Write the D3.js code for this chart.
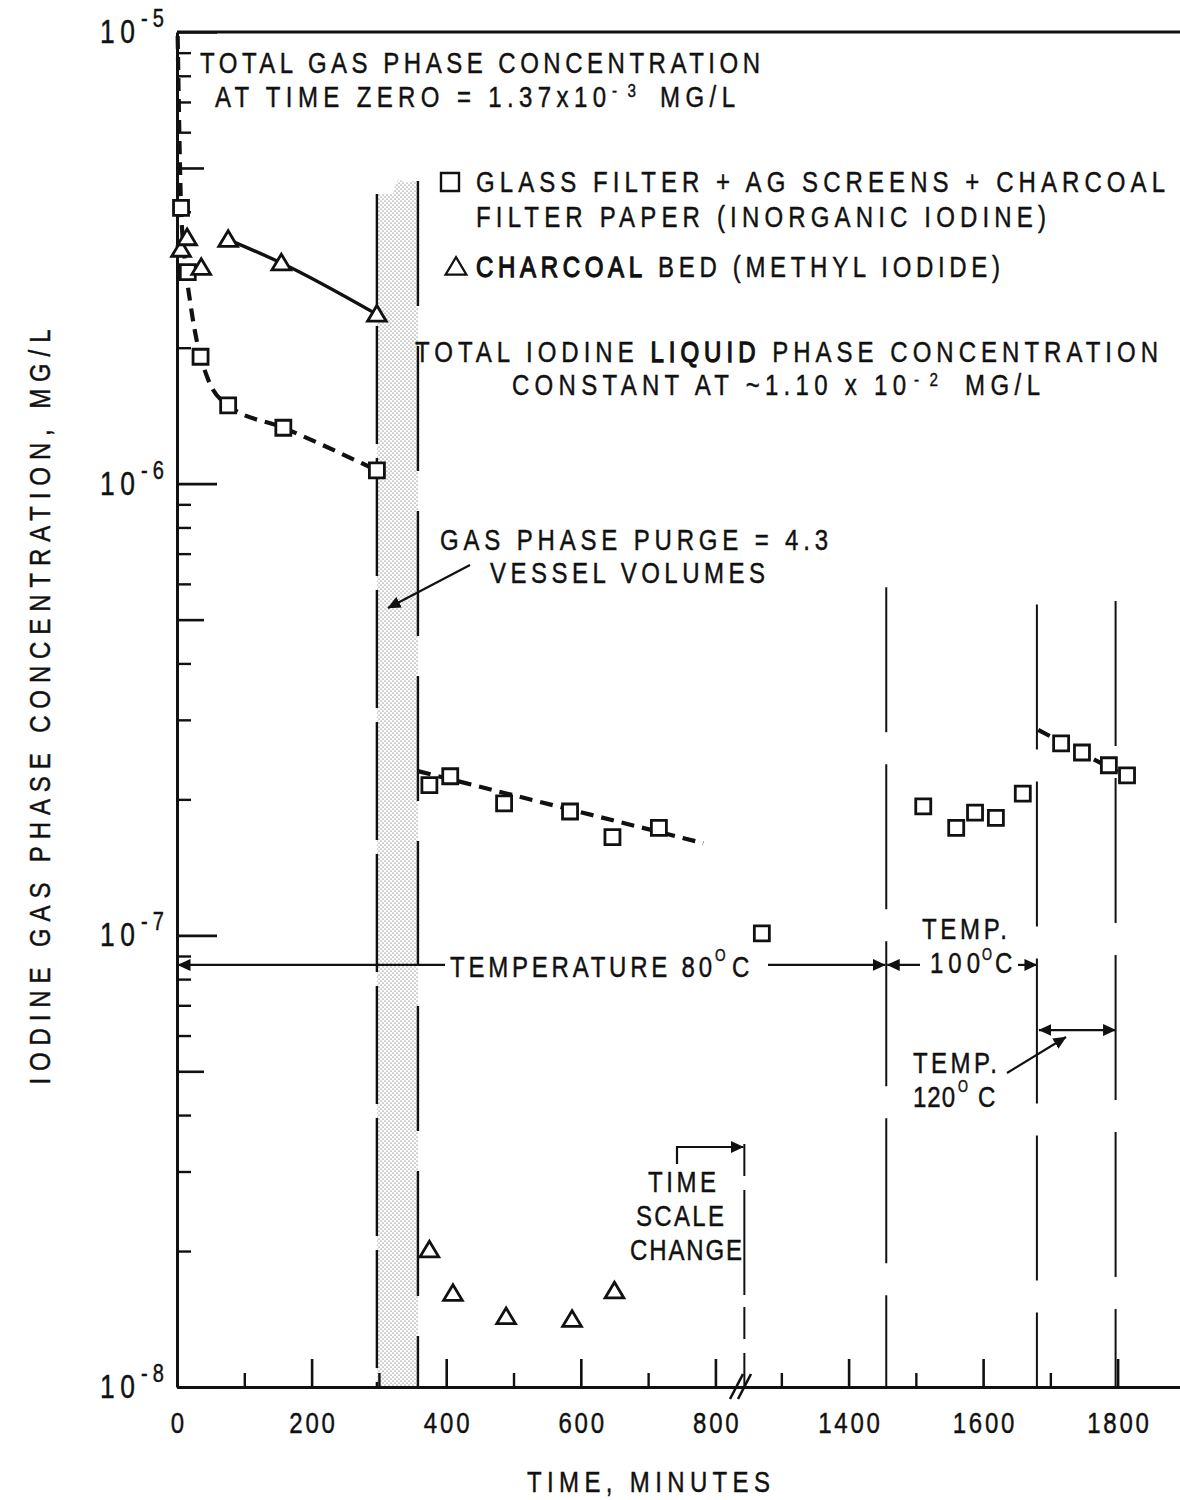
<!DOCTYPE html>
<html>
<head>
<meta charset="utf-8">
<script src="https://cdn.jsdelivr.net/npm/d3@7"></script>
<style>
  body { margin: 0; background: #fff; }
  svg text { font-family: "Liberation Sans", Arial, sans-serif; fill: #111; stroke: #111; stroke-width: 0.45; }
</style>
</head>
<body>
<svg id="chart" width="1180" height="1500"></svg>
<script>
// ---- Data: sampling time (minutes) and iodine gas phase concentration (mg/L) ----
const inorganicTimes  = [6, 16, 35, 76, 158, 297, 375, 406, 486, 584, 647, 716, 1271, 1511, 1560, 1588, 1619, 1659, 1716, 1747, 1787, 1814];
const inorganicValues = [4.08e-6, 2.94e-6, 1.91e-6, 1.49e-6, 1.33e-6, 1.07e-6, 2.15e-7, 2.25e-7, 1.96e-7, 1.88e-7, 1.65e-7, 1.73e-7,
                         1.01e-7, 1.93e-7, 1.73e-7, 1.87e-7, 1.82e-7, 2.06e-7, 2.66e-7, 2.54e-7, 2.38e-7, 2.26e-7];
const methylTimes  = [6, 15, 36, 76, 155, 297, 375, 410, 489, 587, 650];
const methylValues = [3.30e-6, 3.50e-6, 3.01e-6, 3.47e-6, 3.08e-6, 2.37e-6, 2.01e-8, 1.61e-8, 1.43e-8, 1.41e-8, 1.63e-8];

// Hand-drawn trend curves [time, concentration]
const inorganicTrendEarly = [[1, 9.8e-6], [3, 6.5e-6], [6, 4.1e-6], [12, 3.1e-6], [20, 2.5e-6], [30, 2.05e-6], [45, 1.72e-6], [76, 1.49e-6], [158, 1.33e-6], [297, 1.07e-6]];
const inorganicTrendMid   = [[358, 2.31e-7], [782, 1.60e-7]];
const inorganicTrendLate  = [[1682, 2.85e-7], [1800, 2.30e-7]];
const methylTrendEarly    = [[76, 3.47e-6], [155, 3.08e-6], [297, 2.37e-6]];

// Gas phase purge interval and the ragged top of its band
const purgeStart = 297, purgeEnd = 358;
const purgeTop = [[297, 4.38e-6], [321, 4.38e-6], [325, 4.62e-6], [329, 4.72e-6], [340, 4.64e-6], [352, 4.68e-6], [358, 4.68e-6]];

// Temperature periods (minutes) and the time-scale change
const tempBounds = [1456, 1680, 1797];
const tempBoundTops = [5.9e-7, 5.4e-7, 5.5e-7];
const scaleChangeTime = 1245, scaleChangeTop = 3.45e-8;
const temp80Level = 8.6e-8, temp120Level = 6.17e-8;

// Axis ticks
const xMajorTicks = [0, 200, 400, 600, 800, 1400, 1600, 1800];
const xMinorTicks = [100, 300, 500, 700, 1300, 1500, 1700];
const yDecadeTicks = [1e-5, 1e-6, 1e-7, 1e-8];
const yDecadeExponents = ["-5", "-6", "-7", "-8"];
const yHalfTicks = [5e-6, 5e-7, 5e-8];
const yMinorTicks = [9e-6, 8e-6, 7e-6, 6e-6, 4e-6, 3e-6, 2e-6,
                     9e-7, 8e-7, 7e-7, 6e-7, 4e-7, 3e-7, 2e-7,
                     9e-8, 8e-8, 7e-8, 6e-8, 4e-8, 3e-8, 2e-8];

// ---- Scales: broken time axis (gap between 838 and 1240 min) and log concentration ----
const svg = d3.select("#chart");
const x = d3.scaleLinear().domain([0, 838, 1240, 1895]).range([177, 741, 741, 1181.5]);
const y = d3.scaleLog().domain([1e-8, 1e-5]).range([1387, 32]);
const ink = "#111";
const narrow = 0.8;   // horizontal squeeze giving a condensed lettering

const defs = svg.append("defs");
const pat = defs.append("pattern").attr("id", "stipple")
  .attr("width", 4).attr("height", 4).attr("patternUnits", "userSpaceOnUse");
pat.append("rect").attr("width", 4).attr("height", 4).attr("fill", "#fdfdfd");
pat.append("circle").attr("cx", 1).attr("cy", 1).attr("r", 0.55).attr("fill", "#444");
pat.append("circle").attr("cx", 3).attr("cy", 3).attr("r", 0.55).attr("fill", "#444");

defs.append("marker").attr("id", "arrow")
  .attr("viewBox", "0 0 13 12").attr("refX", 12.5).attr("refY", 6)
  .attr("markerWidth", 13).attr("markerHeight", 12)
  .attr("markerUnits", "userSpaceOnUse").attr("orient", "auto-start-reverse")
  .append("path").attr("d", "M0,0L13,6L0,12Z").attr("fill", ink);

// ---- Purge band ----
const bandArea = d3.area()
  .x(d => x(d[0])).y0(y(1e-8)).y1(d => y(d[1]));
svg.append("path").datum(purgeTop).attr("d", bandArea).attr("fill", "url(#stipple)");
svg.append("line")
  .attr("x1", x(purgeStart)).attr("x2", x(purgeStart))
  .attr("y1", y(purgeTop[0][1])).attr("y2", y(1e-8))
  .attr("stroke", ink).attr("stroke-width", 2.4).attr("stroke-dasharray", "118,14");
svg.append("line")
  .attr("x1", x(purgeEnd)).attr("x2", x(purgeEnd))
  .attr("y1", y(purgeTop[purgeTop.length - 1][1])).attr("y2", y(1e-8))
  .attr("stroke", ink).attr("stroke-width", 2.4).attr("stroke-dasharray", "125,40");

// ---- Temperature / time-scale boundary lines ----
tempBounds.forEach((t, i) => {
  svg.append("line")
    .attr("x1", x(t)).attr("x2", x(t))
    .attr("y1", y(tempBoundTops[i])).attr("y2", y(1e-8))
    .attr("stroke", ink).attr("stroke-width", 2).attr("stroke-dasharray", "145,32");
});
svg.append("line")
  .attr("x1", x(scaleChangeTime)).attr("x2", x(scaleChangeTime))
  .attr("y1", y(scaleChangeTop)).attr("y2", y(1e-8))
  .attr("stroke", ink).attr("stroke-width", 2).attr("stroke-dasharray", "32,14,105,12");

// ---- Axes ----
const gx = svg.append("g").attr("transform", `translate(0,${y(1e-8)})`)
  .call(d3.axisBottom(x).tickValues(xMajorTicks).tickSizeInner(-28).tickSizeOuter(0)
        .tickPadding(25).tickFormat(d3.format("d")));
gx.select(".domain").attr("stroke", ink).attr("stroke-width", 3);
gx.selectAll(".tick line").attr("stroke", ink).attr("stroke-width", 2.6);
gx.selectAll(".tick text").attr("font-size", 30).attr("letter-spacing", 3.5)
  .attr("dx", 1.7).attr("transform", `scale(${narrow},1)`);

const gxMinor = svg.append("g").attr("transform", `translate(0,${y(1e-8)})`)
  .call(d3.axisBottom(x).tickValues(xMinorTicks).tickSizeInner(-14).tickSizeOuter(0).tickFormat(""));
gxMinor.select(".domain").remove();
gxMinor.selectAll(".tick line").attr("stroke", ink).attr("stroke-width", 2.4);

// axis break marks
const xb = x(838);
[-4, 4].forEach(o => {
  svg.append("line")
    .attr("x1", xb + o - 7).attr("y1", y(1e-8) + 12)
    .attr("x2", xb + o + 6).attr("y2", y(1e-8) - 13)
    .attr("stroke", ink).attr("stroke-width", 2.6);
});

const gy = svg.append("g").attr("transform", `translate(${x(0)},0)`)
  .call(d3.axisLeft(y).tickValues(yDecadeTicks).tickSizeInner(-40).tickSizeOuter(0).tickFormat(""));
gy.select(".domain").attr("stroke", ink).attr("stroke-width", 3);
gy.selectAll(".tick line").attr("stroke", ink).attr("stroke-width", 2.6);

const gyHalf = svg.append("g").attr("transform", `translate(${x(0)},0)`)
  .call(d3.axisLeft(y).tickValues(yHalfTicks).tickSizeInner(-27).tickSizeOuter(0).tickFormat(""));
gyHalf.select(".domain").remove();
gyHalf.selectAll(".tick line").attr("stroke", ink).attr("stroke-width", 2.6);

const gyMinor = svg.append("g").attr("transform", `translate(${x(0)},0)`)
  .call(d3.axisLeft(y).tickValues(yMinorTicks).tickSizeInner(-14).tickSizeOuter(0).tickFormat(""));
gyMinor.select(".domain").remove();
gyMinor.selectAll(".tick line").attr("stroke", ink).attr("stroke-width", 2.4);

// top frame line
svg.append("line").attr("x1", x(0)).attr("x2", x.range()[3])
  .attr("y1", y(1e-5)).attr("y2", y(1e-5)).attr("stroke", ink).attr("stroke-width", 3);

// ---- Text helper: condensed lettering stretched to a given span ----
function spanText(parts, x0, x1, baseline, size) {
  const g = svg.append("g").attr("transform", `translate(${x0},${baseline}) scale(${narrow},1)`);
  const t = g.append("text").attr("x", 0).attr("y", 0).attr("font-size", size);
  const list = typeof parts === "string" ? [[parts, false]] : parts;
  list.forEach(([s, heavy]) => {
    const ts = t.append("tspan").text(s);
    if (heavy) ts.style("stroke-width", "1.3px");
  });
  const n = list.reduce((a, p) => a + p[0].length, 0);
  if (n > 1) t.attr("textLength", (x1 - x0) / narrow).attr("lengthAdjust", "spacing");
  return t;
}

// decade labels 10^n
yDecadeTicks.forEach((v, i) => {
  spanText("10", 100, 135, y(v) + 11, 33);
  spanText(yDecadeExponents[i], 141, 164, y(v) - 5, 25);
});

// ---- Trend lines ----
const trend = d3.line().x(d => x(d[0])).y(d => y(d[1])).curve(d3.curveMonotoneX);
[inorganicTrendEarly, inorganicTrendMid, inorganicTrendLate].forEach(seg => {
  svg.append("path").datum(seg).attr("d", trend).attr("fill", "none")
    .attr("stroke", ink).attr("stroke-width", 4.2).attr("stroke-dasharray", "13,8");
});
svg.append("path").datum(methylTrendEarly).attr("d", trend).attr("fill", "none")
  .attr("stroke", ink).attr("stroke-width", 3.4);

// ---- Markers ----
const triangleSymbol = {
  draw(ctx, size) {
    const w = Math.sqrt(size);
    ctx.moveTo(0, -w * 0.52);
    ctx.lineTo(w * 0.55, w * 0.4);
    ctx.lineTo(-w * 0.55, w * 0.4);
    ctx.closePath();
  }
};
const squareSymbol = {
  draw(ctx, size) {
    const h = Math.sqrt(size) / 2;
    ctx.rect(-h, -h, 2 * h, 2 * h);
  }
};
const sq = d3.symbol().type(squareSymbol).size(15 * 15);
const tri = d3.symbol().type(triangleSymbol).size(17 * 17);

svg.append("g").selectAll("path").data(d3.zip(inorganicTimes, inorganicValues)).join("path")
  .attr("transform", d => `translate(${x(d[0])},${y(d[1])})`)
  .attr("d", sq).attr("fill", "#fff").attr("stroke", ink).attr("stroke-width", 2.8);
svg.append("g").selectAll("path").data(d3.zip(methylTimes, methylValues)).join("path")
  .attr("transform", d => `translate(${x(d[0])},${y(d[1])})`)
  .attr("d", tri).attr("fill", "#fff").attr("stroke", ink).attr("stroke-width", 2.8)
  .attr("stroke-linejoin", "miter");

// ---- Legend ----
svg.append("path").attr("transform", "translate(450,182)")
  .attr("d", d3.symbol().type(squareSymbol).size(18 * 18))
  .attr("fill", "#fff").attr("stroke", ink).attr("stroke-width", 2.4);
svg.append("path").attr("transform", "translate(456,267)")
  .attr("d", d3.symbol().type(triangleSymbol).size(19 * 19))
  .attr("fill", "#fff").attr("stroke", ink).attr("stroke-width", 2.2);

// ---- Annotation text ----
const textBlocks = [
  ["TOTAL GAS PHASE CONCENTRATION", 200, 760, 73, 30],
  ["AT TIME ZERO = 1.37x10", 215, 606, 107, 30],
  ["-3", 612, 636, 97, 19],
  ["MG/L", 660, 735, 107, 30],
  ["GLASS FILTER + AG SCREENS + CHARCOAL", 476, 1165, 192, 30],
  ["FILTER PAPER (INORGANIC IODINE)", 476, 1046, 227, 30],
  [[["CHARCOAL", true], [" BED (METHYL IODIDE)", false]], 476, 1000, 277, 30],
  [[["TOTAL IODINE ", false], ["LIQUID", true], [" PHASE CONCENTRATION", false]], 415, 1158, 362, 30],
  ["CONSTANT AT ~1.10 x 10", 512, 906, 395, 30],
  ["-2", 914, 938, 386, 19],
  ["MG/L", 965, 1040, 395, 30],
  ["GAS PHASE PURGE = 4.3", 440, 828, 550, 30],
  ["VESSEL VOLUMES", 490, 765, 583, 30],
  ["TEMPERATURE 80", 450, 712, 977, 30],
  ["O", 715, 727, 961, 17],
  ["C", 732, 750, 977, 30],
  ["TEMP.", 922, 1007, 939, 30],
  ["100", 930, 980, 973, 30],
  ["O", 982, 993, 960, 16],
  ["C", 995, 1012, 973, 30],
  ["TEMP.", 913, 997, 1073, 30],
  ["120", 913, 955, 1107, 30],
  ["O", 958, 970, 1092, 16],
  ["C", 978, 995, 1107, 30],
  ["TIME", 648, 716, 1192, 30],
  ["SCALE", 636, 724, 1226, 30],
  ["CHANGE", 630, 742, 1260, 30],
  ["TIME, MINUTES", 527, 770, 1492, 30]
];
textBlocks.forEach(b => spanText(...b));

svg.append("g").attr("transform", `translate(50,707) rotate(-90) scale(${narrow},1)`)
  .append("text")
  .attr("text-anchor", "middle").attr("font-size", 30)
  .attr("textLength", 755 / narrow).attr("lengthAdjust", "spacing")
  .text("IODINE GAS PHASE CONCENTRATION, MG/L");

// ---- Annotation arrows ----
function arrowLine(pts, start, end) {
  const p = svg.append("path").attr("d", d3.line()(pts)).attr("fill", "none")
    .attr("stroke", ink).attr("stroke-width", 2.2);
  if (start) p.attr("marker-start", "url(#arrow)");
  if (end) p.attr("marker-end", "url(#arrow)");
}
const y80 = y(temp80Level), y120 = y(temp120Level);
arrowLine([[x(0) + 1, y80], [445, y80]], true, false);
arrowLine([[768, y80], [x(tempBounds[0]) - 1, y80]], false, true);
arrowLine([[x(tempBounds[0]) + 1, y80], [920, y80]], true, false);
arrowLine([[1018, y80], [x(tempBounds[1]), y80]], false, true);
arrowLine([[x(tempBounds[1]) + 2, y120], [x(tempBounds[2]), y120]], true, true);
arrowLine([[1007, 1073], [1066, 1037]], false, true);
arrowLine([[470, 565], [388, 608]], false, true);
arrowLine([[677, 1164], [677, 1147], [x(scaleChangeTime) - 1, 1147]], false, true);
</script>
</body>
</html>
